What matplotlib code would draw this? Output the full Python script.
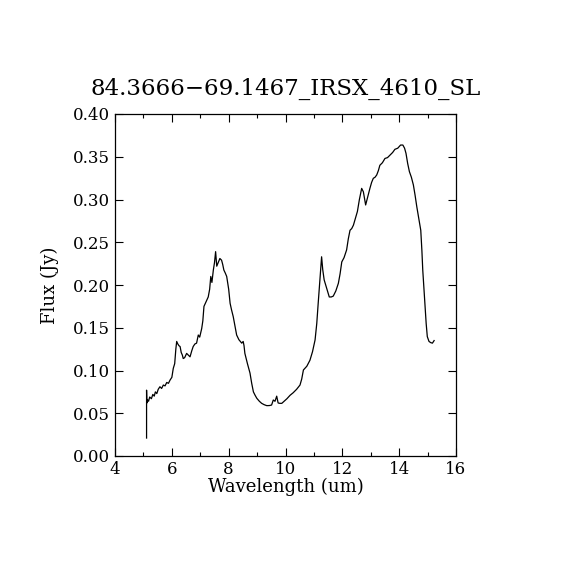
import matplotlib
matplotlib.use("Agg")
import matplotlib.pyplot as plt
from matplotlib.ticker import MultipleLocator

wavelength = [5.11, 5.11, 5.12, 5.14, 5.18, 5.22, 5.28, 5.33, 5.38, 5.42, 5.47, 5.52, 5.58, 5.64, 5.70,
              5.76, 5.82, 5.88, 5.94, 6.00, 6.05, 6.10, 6.14, 6.17, 6.21, 6.25, 6.29, 6.33, 6.37,
              6.40, 6.45, 6.52, 6.58, 6.64, 6.70, 6.75, 6.81, 6.87, 6.93, 6.98, 7.05, 7.09,
              7.13, 7.20, 7.28, 7.33, 7.37, 7.41, 7.46, 7.50, 7.54, 7.58, 7.64, 7.69, 7.75,
              7.79, 7.83, 7.88, 7.93, 8.00, 8.05, 8.10, 8.16, 8.22, 8.28, 8.36, 8.46, 8.51,
              8.54, 8.57, 8.66, 8.75, 8.81, 8.87, 8.93, 8.99, 9.08, 9.16, 9.25, 9.34, 9.43,
              9.51, 9.57, 9.63, 9.69, 9.74, 9.80, 9.87, 9.95, 10.05, 10.16, 10.27, 10.39,
              10.51, 10.57, 10.63, 10.75, 10.86, 10.95, 11.04, 11.10, 11.15, 11.21, 11.27,
              11.31, 11.36, 11.45, 11.54, 11.61, 11.68, 11.77, 11.86, 11.92, 11.98, 12.06,
              12.15, 12.21, 12.27, 12.33, 12.39, 12.46, 12.53, 12.60, 12.68, 12.74, 12.82,
              12.90, 12.97, 13.03, 13.09, 13.15, 13.21, 13.27, 13.32, 13.41, 13.50, 13.59,
              13.68, 13.77, 13.85, 13.95, 14.05, 14.13, 14.19, 14.24, 14.30, 14.36, 14.43,
              14.50, 14.56, 14.62, 14.69, 14.76, 14.80, 14.83, 14.87, 14.91, 14.95, 14.99,
              15.05, 15.11, 15.17, 15.23]
flux = [0.021, 0.077, 0.062, 0.066, 0.064, 0.069, 0.067, 0.072, 0.070, 0.075, 0.073, 0.078, 0.081, 0.079, 0.083,
        0.082, 0.086, 0.085, 0.089, 0.092, 0.1025, 0.108, 0.125, 0.134, 0.131, 0.129, 0.128, 0.121, 0.118,
        0.114, 0.115, 0.120, 0.118, 0.116, 0.123, 0.128, 0.131, 0.132, 0.1415, 0.139, 0.149, 0.158,
        0.175, 0.180, 0.186, 0.195, 0.210, 0.203, 0.2175, 0.226, 0.239, 0.222, 0.227, 0.231, 0.229,
        0.224, 0.2175, 0.214, 0.210, 0.195, 0.1786, 0.171, 0.163, 0.152, 0.1415, 0.136, 0.132, 0.134,
        0.129, 0.120, 0.108, 0.097, 0.085, 0.075, 0.071, 0.0675, 0.064, 0.0616, 0.060, 0.0589, 0.059,
        0.0596, 0.0655, 0.064, 0.070, 0.062, 0.0616, 0.0616, 0.064, 0.067, 0.071, 0.074, 0.078,
        0.083, 0.090, 0.1006, 0.105, 0.112, 0.122, 0.1357, 0.155, 0.1786, 0.205, 0.233,
        0.218, 0.206, 0.196, 0.186, 0.186, 0.187, 0.193, 0.202, 0.213, 0.227, 0.232,
        0.241, 0.254, 0.264, 0.266, 0.270, 0.278, 0.286, 0.300, 0.313, 0.309, 0.2936,
        0.304, 0.313, 0.320, 0.3248, 0.326, 0.3287, 0.334, 0.340, 0.343, 0.348, 0.349,
        0.352, 0.355, 0.3587, 0.360, 0.3637, 0.3637, 0.360, 0.354, 0.342, 0.3326, 0.326,
        0.317, 0.305, 0.2916, 0.278, 0.264, 0.240, 0.2175, 0.196, 0.1747, 0.155, 0.1396,
        0.134, 0.1326, 0.132, 0.135]

x_ticks = [4, 6, 8, 10, 12, 14, 16]
y_ticks = [0.00, 0.05, 0.10, 0.15, 0.20, 0.25, 0.30, 0.35, 0.40]

plt.rcParams['font.family'] = ['DejaVu Serif']
fig = plt.figure(figsize=(5.7, 5.7), dpi=100)
ax = fig.add_axes([0.2018, 0.2, 0.5982, 0.6])
ax.plot(wavelength, flux, color='black', linewidth=0.9)
ax.set_xlim(4, 16)
ax.set_ylim(0, 0.40)
ax.set_xticks(x_ticks)
ax.set_xticklabels([str(t) for t in x_ticks])
ax.set_yticks(y_ticks)
ax.set_yticklabels([f"{t:.2f}" for t in y_ticks])
ax.xaxis.set_minor_locator(MultipleLocator(1))
ax.tick_params(which='both', direction='in', top=True, right=True, labelsize=12, width=0.8)
ax.tick_params(which='major', length=6)
ax.tick_params(which='minor', length=3)
for s in ax.spines.values():
    s.set_linewidth(0.9)
ax.set_xlabel('Wavelength (um)', fontsize=13, labelpad=0)
ax.set_ylabel('Flux (Jy)', fontsize=13, labelpad=10)
ax.set_title('84.3666\u221269.1467_IRSX_4610_SL', fontsize=16.5, pad=14)
fig.savefig('out.png', dpi=100)
